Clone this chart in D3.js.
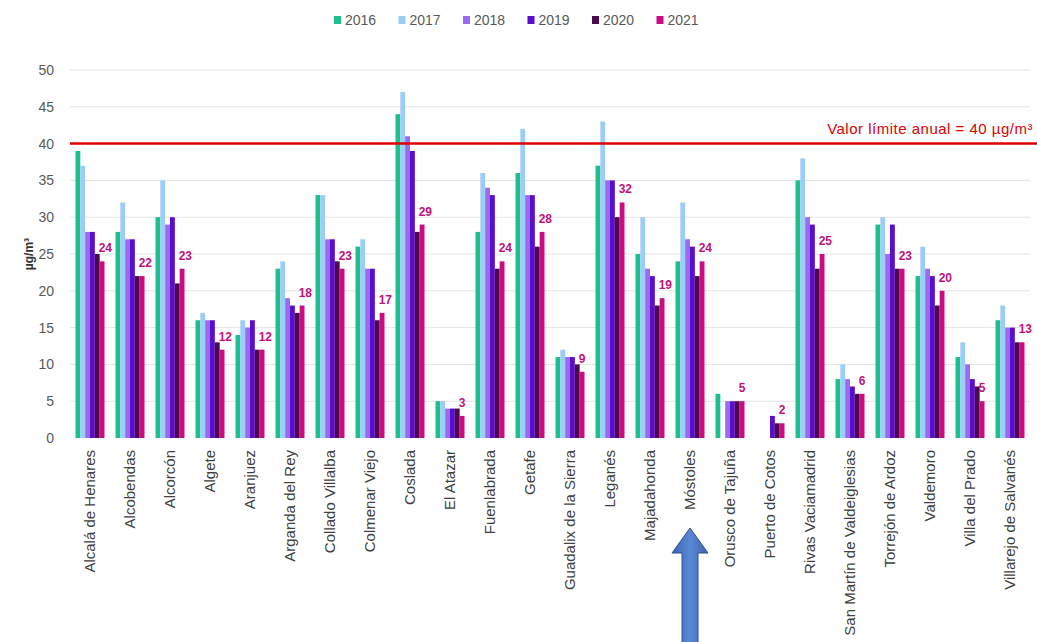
<!DOCTYPE html>
<html>
<head>
<meta charset="utf-8">
<script src="https://cdn.jsdelivr.net/npm/d3@7"></script>
<style>
  body { margin: 0; background: #fff; }
  svg { display: block; font-family: "Liberation Sans", Arial, sans-serif; }
</style>
</head>
<body>
<script>
// stations (x categories)
const stations = ["Alcalá de Henares", "Alcobendas", "Alcorcón", "Algete", "Aranjuez", "Arganda del Rey",
  "Collado Villalba", "Colmenar Viejo", "Coslada", "El Atazar", "Fuenlabrada", "Getafe",
  "Guadalix de la Sierra", "Leganés", "Majadahonda", "Móstoles", "Orusco de Tajuña", "Puerto de Cotos",
  "Rivas Vaciamadrid", "San Martín de Valdeiglesias", "Torrejón de Ardoz", "Valdemoro", "Villa del Prado",
  "Villarejo de Salvanés"]
const years = ["2016", "2017", "2018", "2019", "2020", "2021"]

// annual NO2 means, one array per year (null = no data)
const v2016 = [39, 28, 30, 16, 14, 23, 33, 26, 44, 5, 28, 36, 11, 37, 25, 24, 6, null, 35, 8, 29, 22, 11, 16]
const v2017 = [37, 32, 35, 17, 16, 24, 33, 27, 47, 5, 36, 42, 12, 43, 30, 32, null, null, 38, 10, 30, 26, 13, 18]
const v2018 = [28, 27, 29, 16, 15, 19, 27, 23, 41, 4, 34, 33, 11, 35, 23, 27, 5, null, 30, 8, 25, 23, 10, 15]
const v2019 = [28, 27, 30, 16, 16, 18, 27, 23, 39, 4, 33, 33, 11, 35, 22, 26, 5, 3, 29, 7, 29, 22, 8, 15]
const v2020 = [25, 22, 21, 13, 12, 17, 24, 16, 28, 4, 23, 26, 10, 30, 18, 22, 5, 2, 23, 6, 23, 18, 7, 13]
const v2021 = [24, 22, 23, 12, 12, 18, 23, 17, 29, 3, 24, 28, 9, 32, 19, 24, 5, 2, 25, 6, 23, 20, 5, 13]
const series = [v2016, v2017, v2018, v2019, v2020, v2021]

const yTicks = [0, 5, 10, 15, 20, 25, 30, 35, 40, 45, 50]
const limitValue = 40
const limitLabel = "Valor límite anual = 40 µg/m³"
const highlighted = "Móstoles"

const colors = ["#1dbf8c", "#9ccdf6", "#9a6bf2", "#5a0ecb", "#4b0a4c", "#cc0a82"]

const width = 1037
const height = 642
const margin = {top: 70, bottom: 204, left: 70, right: 7}
const baseY = height - margin.bottom

const x0 = d3.scaleBand().domain(stations).range([margin.left, width - margin.right]).padding(0)
const x1 = d3.scaleBand().domain(years).range([5.5, x0.bandwidth() - 5.5])
const y = d3.scaleLinear().domain([0, 50]).range([baseY, margin.top])
const color = d3.scaleOrdinal().domain(years).range(colors)

const svg = d3.select("body").append("svg")
  .attr("width", width)
  .attr("height", height)

// gridlines
svg.append("g")
  .selectAll("line")
  .data(yTicks.filter(t => t > 0))
  .enter().append("line")
  .attr("x1", margin.left)
  .attr("x2", width - margin.right)
  .attr("y1", d => y(d))
  .attr("y2", d => y(d))
  .attr("stroke", "#e4e4e4")
  .attr("stroke-width", 1)

// y axis
const yAxis = d3.axisLeft(y).tickValues(yTicks).tickSize(0).tickPadding(16)
svg.append("g")
  .attr("transform", "translate(" + margin.left + ",0)")
  .call(yAxis)
  .call(g => g.select(".domain").remove())
  .call(g => g.selectAll("text")
    .attr("fill", "#595959")
    .style("font-size", "14px"))

svg.append("text")
  .attr("transform", "translate(33," + y(25) + ") rotate(-90)")
  .attr("text-anchor", "middle")
  .attr("fill", "#333")
  .style("font-size", "12px")
  .style("font-weight", "bold")
  .text("µg/m³")

// bars
const groups = svg.append("g")
  .selectAll("g")
  .data(stations)
  .enter().append("g")
  .attr("transform", d => "translate(" + x0(d) + ",0)")

groups.selectAll("rect")
  .data((s, i) => years.map((yr, j) => ({year: yr, value: series[j][i]})))
  .enter().append("rect")
  .filter(d => d.value != null)
  .attr("x", d => x1(d.year))
  .attr("width", x1.bandwidth())
  .attr("y", d => y(d.value))
  .attr("height", d => baseY - y(d.value))
  .attr("fill", d => color(d.year))

// 2021 value labels
groups.append("text")
  .attr("x", x1("2021") - 1)
  .attr("y", (s, i) => y(v2021[i]) - 9)
  .attr("fill", "#c0127a")
  .style("font-size", "12px")
  .style("font-weight", "bold")
  .text((s, i) => v2021[i])

// limit line
svg.append("line")
  .attr("x1", margin.left)
  .attr("x2", width)
  .attr("y1", y(limitValue))
  .attr("y2", y(limitValue))
  .attr("stroke", "#e00000")
  .attr("stroke-width", 2.5)

svg.append("text")
  .attr("x", width - 4)
  .attr("y", y(limitValue) - 10)
  .attr("text-anchor", "end")
  .attr("fill", "#e00000")
  .style("font-size", "15px")
  .style("letter-spacing", "0.5px")
  .text(limitLabel)

// x labels
const xAxis = d3.axisBottom(x0).tickSize(0).tickPadding(0)
svg.append("g")
  .attr("transform", "translate(0," + baseY + ")")
  .call(xAxis)
  .call(g => g.select(".domain").remove())
  .call(g => g.selectAll("text")
    .attr("transform", "rotate(-90)")
    .attr("text-anchor", "end")
    .attr("x", -12)
    .attr("y", 0)
    .attr("dy", "0.35em")
    .attr("fill", "#404040")
    .style("font-size", "15px"))

// legend
const legend = svg.append("g")
  .selectAll("g")
  .data(years)
  .enter().append("g")
  .attr("transform", (d, i) => "translate(" + (334 + i * 64.5) + ",20)")
legend.append("rect")
  .attr("x", 0).attr("y", -4)
  .attr("width", 7).attr("height", 8)
  .attr("fill", d => color(d))
legend.append("text")
  .attr("x", 11)
  .attr("dy", "0.35em")
  .attr("fill", "#595959")
  .style("font-size", "14px")
  .text(d => d)

// arrow under the highlighted station
const ax = x0(highlighted) + x0.bandwidth() / 2
const defs = svg.append("defs")
const grad = defs.append("linearGradient").attr("id", "arrowGrad")
grad.append("stop").attr("offset", "0%").attr("stop-color", "#3a64b0")
grad.append("stop").attr("offset", "50%").attr("stop-color", "#5b88d6")
grad.append("stop").attr("offset", "100%").attr("stop-color", "#3a64b0")
const arrowPts = [[ax, 528], [ax + 18, 553], [ax + 8, 553], [ax + 8, 645], [ax - 8, 645], [ax - 8, 553], [ax - 18, 553]]
svg.append("path")
  .attr("d", d3.line()(arrowPts) + "Z")
  .attr("fill", "url(#arrowGrad)")
  .attr("stroke", "#2f528f")
  .attr("stroke-width", 1)
</script>
</body>
</html>
